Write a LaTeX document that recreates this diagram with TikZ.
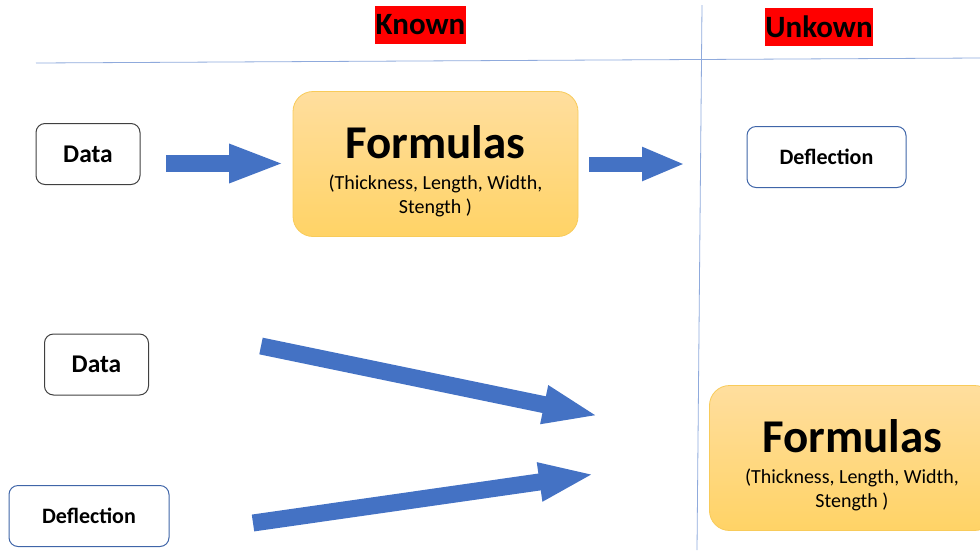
\documentclass[tikz,border=0pt]{standalone}
\usepackage{fontspec}
\setmainfont{Carlito}
\usetikzlibrary{arrows.meta}
\definecolor{headred}{HTML}{FF0000}
\definecolor{rulblue}{HTML}{8FAADC}
\definecolor{arrowblue}{HTML}{4472C4}
\definecolor{boxblue}{HTML}{3F65A8}
\definecolor{boxgray}{HTML}{404040}
\definecolor{formtop}{HTML}{FFDE9E}
\definecolor{formbot}{HTML}{FFD366}
\definecolor{formedge}{HTML}{F8CB5A}
\begin{document}
\begin{tikzpicture}
        [   x = 1pt, y = -1pt
        ,   header/.style =
            {   fill = headred, inner xsep = 0.5pt, inner ysep = 0pt
            ,   minimum height = 38pt
            ,   font = \fontsize{31}{36}\selectfont\bfseries
            }
        ,   databox/.style =
            {   draw = #1, line width = 1pt, rounded corners = 9pt
            ,   minimum width = 104pt, minimum height = 61pt
            ,   font = \fontsize{25.5}{30}\selectfont\bfseries
            }
        ,   deflbox/.style =
            {   databox = boxblue, minimum width = 159pt
            ,   font = \fontsize{22}{26}\selectfont\bfseries
            }
        ,   formbox/.style =
            {   draw = formedge, line width = 0.8pt, rounded corners = 20pt
            ,   top color = formtop, bottom color = formbot
            ,   minimum width = 285pt, minimum height = 145pt
            }
        ,   formtext/.style =
            {   align = center, font = \fontsize{20}{24}\selectfont
            ,   yshift = -7pt
            }
        ,   blockarrow/.style =
            {   draw = arrowblue, line width = #1, line cap = butt
            }
        ,   rule/.style =
            {   draw = rulblue, line width = 0.8pt
            }
        ]
        % frame
        \useasboundingbox (0,0) rectangle (980,550);
        \draw[rule] (36,63) -- (980,58);
        \draw[rule] (702,5) -- (697,550);
        \node[header] (known) at (420.5,25) {Known};
        \node[header] (unknown) at (819,26.5) {Unkown};
        % top row
        \node[databox = boxgray] (data1) at (88,154) {Data};
        \node[formbox] (formulas1) at (435.5,164) {};
        \node[formtext] (formulas1text) at (formulas1.center)
            {{\fontsize{47}{50}\selectfont\bfseries Formulas}\\[7pt]
             (Thickness, Length, Width,\\
             Stength )};
        \node[deflbox] (deflection1) at (826.5,157) {Deflection};
        % bottom row
        \node[databox = boxgray] (data2) at (96.5,364.5) {Data};
        \node[deflbox, minimum width = 160pt] (deflection2) at (89,516) {Deflection};
        \node[formbox] (formulas2) at (852,458) {};
        \node[formtext] (formulas2text) at (formulas2.center)
            {{\fontsize{47}{50}\selectfont\bfseries Formulas}\\[7pt]
             (Thickness, Length, Width,\\
             Stength )};
        % arrows
        \coordinate (a1s) at (166,163.5);
        \coordinate (a1e) at (285,163.5);
        \coordinate (a2s) at (589,164);
        \coordinate (a2e) at (685,164);
        \coordinate (a3s) at (261,346);
        \coordinate (a3e) at (599,416);
        \coordinate (a4s) at (253,523);
        \coordinate (a4e) at (595,474);
        \draw[blockarrow = 17pt, -{Triangle[length = 56pt, width = 35pt, fill = arrowblue]}] (a1s) -- (a1e);
        \draw[blockarrow = 15pt, -{Triangle[length = 43pt, width = 31pt, fill = arrowblue]}] (a2s) -- (a2e);
        \draw[blockarrow = 17pt, -{Triangle[length = 56pt, width = 35pt, fill = arrowblue]}] (a3s) -- (a3e);
        \draw[blockarrow = 17pt, -{Triangle[length = 56pt, width = 35pt, fill = arrowblue]}] (a4s) -- (a4e);
    \end{tikzpicture}
\end{document}
